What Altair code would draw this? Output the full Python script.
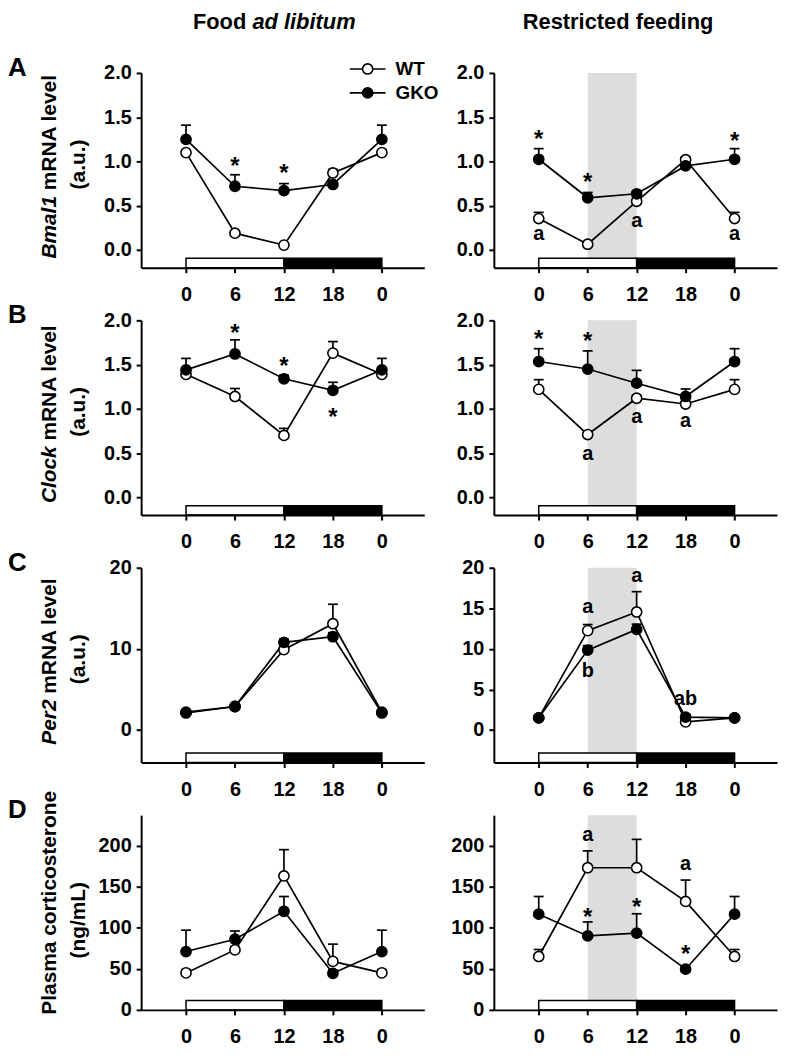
import json
import altair as alt
import pandas as pd

# ---------------- data ----------------
hours = [0, 6, 12, 18, 24]
hour_labels = ["0", "6", "12", "18", "0"]
genotypes = ["WT", "GKO"]
light_phase = [0, 12]
dark_phase = [12, 24]
feeding_window = [6, 12]

# A  Bmal1
bmal1_adlib_wt = [1.10, 0.19, 0.055, 0.87, 1.10]
bmal1_adlib_wt_err = [0.03, 0.02, 0.02, 0.04, 0.03]
bmal1_adlib_gko = [1.25, 0.72, 0.67, 0.74, 1.25]
bmal1_adlib_gko_err = [0.16, 0.13, 0.08, 0.04, 0.16]
bmal1_adlib_marks = [(6, 1.00, "*"), (12, 0.93, "*")]

bmal1_rf_wt = [0.355, 0.065, 0.55, 1.02, 0.355]
bmal1_rf_wt_err = [0.07, 0.02, 0.03, 0.03, 0.07]
bmal1_rf_gko = [1.025, 0.59, 0.635, 0.95, 1.025]
bmal1_rf_gko_err = [0.12, 0.06, 0.03, 0.03, 0.12]
bmal1_rf_marks = [(0, 1.31, "*"), (6, 0.82, "*"), (24, 1.29, "*"),
                  (0, 0.16, "a"), (12, 0.31, "a"), (24, 0.16, "a")]

# B  Clock
clock_adlib_wt = [1.39, 1.14, 0.70, 1.63, 1.39]
clock_adlib_wt_err = [0.04, 0.09, 0.08, 0.13, 0.04]
clock_adlib_gko = [1.44, 1.62, 1.34, 1.21, 1.44]
clock_adlib_gko_err = [0.13, 0.16, 0.04, 0.09, 0.13]
clock_adlib_marks = [(6, 1.91, "*"), (12, 1.54, "*"), (18, 0.96, "*")]

clock_rf_wt = [1.22, 0.71, 1.12, 1.055, 1.22]
clock_rf_wt_err = [0.11, 0.03, 0.03, 0.03, 0.11]
clock_rf_gko = [1.535, 1.45, 1.29, 1.14, 1.535]
clock_rf_gko_err = [0.145, 0.205, 0.145, 0.085, 0.145]
clock_rf_marks = [(0, 1.84, "*"), (6, 1.82, "*"),
                  (6, 0.47, "a"), (12, 0.89, "a"), (18, 0.84, "a")]

# C  Per2
per2_adlib_wt = [2.2, 2.9, 9.9, 13.1, 2.2]
per2_adlib_wt_err = [0.3, 0.3, 0.4, 2.4, 0.3]
per2_adlib_gko = [2.1, 2.9, 10.8, 11.5, 2.1]
per2_adlib_gko_err = [0.3, 0.3, 0.4, 0.5, 0.3]
per2_adlib_marks = []

per2_rf_wt = [1.5, 12.25, 14.55, 1.0, 1.5]
per2_rf_wt_err = [0.2, 0.75, 2.5, 0.2, 0.2]
per2_rf_gko = [1.5, 9.85, 12.4, 1.6, 1.5]
per2_rf_gko_err = [0.2, 0.55, 0.65, 0.3, 0.2]
per2_rf_marks = [(6, 14.9, "a"), (12, 18.7, "a"), (6, 7.0, "b"), (18, 3.6, "ab")]

# D  Plasma corticosterone
cort_adlib_wt = [45, 73, 163, 59, 45]
cort_adlib_wt_err = [4, 4, 32, 21, 4]
cort_adlib_gko = [71, 86, 120, 44.5, 71]
cort_adlib_gko_err = [26, 10, 18, 4, 26]
cort_adlib_marks = []

cort_rf_wt = [65, 173, 173, 132, 65]
cort_rf_wt_err = [8.5, 20.5, 34.5, 26, 8.5]
cort_rf_gko = [116.5, 90, 93.5, 49.5, 116.5]
cort_rf_gko_err = [21.5, 17, 23.5, 3, 21.5]
cort_rf_marks = [(6, 210.7, "a"), (18, 175, "a"),
                 (6, 119, "*"), (12, 131, "*"), (18, 73.5, "*")]

column_titles = [("Food ", "ad libitum"), ("Restricted feeding", "")]
row_letters = ["A", "B", "C", "D"]
row_titles = [("Bmal1", "mRNA level", "(a.u.)"),
              ("Clock", "mRNA level", "(a.u.)"),
              ("Per2", "mRNA level", "(a.u.)"),
              ("", "Plasma corticosterone", "(ng/mL)")]
legend_labels = ["WT", "GKO"]

row_domains = [(-0.2, 2.0), (-0.2, 2.0), (-4, 20), (0, 237)]
row_ticks = [([0, 0.5, 1.0, 1.5, 2.0], [0, 0.5, 1.0, 1.5, 2.0]),
             ([0, 0.5, 1.0, 1.5, 2.0], [0, 0.5, 1.0, 1.5, 2.0]),
             ([0, 10, 20], [0, 5, 10, 15, 20]),
             ([0, 50, 100, 150, 200], [0, 50, 100, 150, 200])]
row_formats = [".1f", ".1f", "d", "d"]

# ---------------- layout / style ----------------
FONT = "Liberation Sans"
W, H = 285, 196
XDOM = [-5.5, 29.2]
LABEL_EXPR = f"{json.dumps(hour_labels)}[indexof({json.dumps(hours)}, datum.value)]"

CW = {'A': .722, 'B': .722, 'C': .722, 'D': .722, 'E': .667, 'F': .611, 'G': .778,
      'K': .722, 'L': .611, 'M': .833, 'N': .722, 'O': .778, 'P': .667, 'R': .722,
      'S': .667, 'T': .611, 'W': .944, 'a': .556, 'b': .611, 'c': .556, 'd': .611,
      'e': .556, 'f': .333, 'g': .611, 'i': .278, 'k': .556, 'l': .278, 'm': .889,
      'n': .611, 'o': .611, 'p': .611, 'r': .389, 's': .556, 't': .333, 'u': .611,
      'v': .556, ' ': .278, '(': .333, ')': .333, '.': .278, '/': .278}


def tw(s, size):
    return sum(CW.get(c, 0.556) for c in s) * size


ONE = pd.DataFrame({"k": [0]})


def label(text, x, y, size, style="normal", align="left", baseline="middle", angle=0):
    kw = dict(font=FONT, fontSize=size, fontWeight="bold", fontStyle=style,
              align=align, baseline=baseline, color="black")
    if angle:
        kw["angle"] = angle
    return alt.Chart(pd.DataFrame({"t": [text]})).mark_text(**kw).encode(
        x=alt.value(x), y=alt.value(y), text="t:N")


def panel(wt, wt_err, gko, gko_err, marks, row, col):
    ymin, ymax = row_domains[row]
    bar_top = ymin + (ymax - ymin) * 9.5 / H
    df = pd.DataFrame({
        "hour": hours + hours,
        "value": wt + gko,
        "top": [v + e for v, e in zip(wt, wt_err)] + [v + e for v, e in zip(gko, gko_err)],
        "genotype": [genotypes[0]] * len(hours) + [genotypes[1]] * len(hours),
    })
    xs = alt.Scale(domain=XDOM, nice=False, zero=False)
    ys = alt.Scale(domain=[ymin, ymax], nice=False, zero=False)
    xa = alt.Axis(values=hours, labelExpr=LABEL_EXPR, title=None, grid=False,
                  labelAngle=0, labelFlush=False, labelOverlap=False, tickSize=5,
                  labelPadding=12, zindex=1)
    ya = alt.Axis(values=row_ticks[row][col], format=row_formats[row], title=None,
                  grid=False, labelFlush=False, labelOverlap=False, tickSize=5,
                  labelPadding=5, zindex=1)

    def X(f):
        return alt.X(f, type="quantitative", scale=xs, axis=xa)

    def Y(f):
        return alt.Y(f, type="quantitative", scale=ys, axis=ya)

    layers = []
    if col == 1:
        sh = pd.DataFrame({"x0": [feeding_window[0]], "x1": [feeding_window[1]],
                           "y0": [bar_top], "y1": [ymax]})
        layers.append(alt.Chart(sh).mark_rect(color="#dddddd").encode(
            x=X("x0"), x2="x1", y=Y("y0"), y2="y1"))
    ld = pd.DataFrame({"x0": [light_phase[0], dark_phase[0]],
                       "x1": [light_phase[1], dark_phase[1]],
                       "y0": [ymin, ymin], "y1": [bar_top, bar_top],
                       "phase": ["light", "dark"]})
    layers.append(alt.Chart(ld).mark_rect(stroke="black", strokeWidth=1.5).encode(
        x=X("x0"), x2="x1", y=Y("y0"), y2="y1",
        fill=alt.Fill("phase:N", scale=alt.Scale(domain=["light", "dark"],
                                                 range=["white", "black"]), legend=None)))
    base = alt.Chart(df)
    layers.append(base.mark_line(color="black", strokeWidth=1.7).encode(
        x=X("hour"), y=Y("value"), detail="genotype:N"))
    layers.append(base.mark_rule(color="black", strokeWidth=1.7).encode(
        x=X("hour"), y=Y("value"), y2="top"))
    layers.append(base.mark_tick(orient="horizontal", size=10, thickness=1.7,
                                 color="black", opacity=1).encode(x=X("hour"), y=Y("top")))
    layers.append(base.mark_point(shape="circle", filled=True, size=105, stroke="black",
                                  strokeWidth=1.6, opacity=1).encode(
        x=X("hour"), y=Y("value"),
        fill=alt.Fill("genotype:N", scale=alt.Scale(domain=genotypes,
                                                    range=["white", "black"]), legend=None)))
    stars = [m for m in marks if m[2] == "*"]
    letters = [m for m in marks if m[2] != "*"]
    if stars:
        layers.append(alt.Chart(pd.DataFrame(stars, columns=["hour", "value", "lab"]))
                      .mark_text(font=FONT, fontWeight="bold", fontSize=24, dy=6,
                                 color="black")
                      .encode(x=X("hour"), y=Y("value"), text="lab:N"))
    if letters:
        layers.append(alt.Chart(pd.DataFrame(letters, columns=["hour", "value", "lab"]))
                      .mark_text(font=FONT, fontWeight="bold", fontSize=20, dy=-2,
                                 color="black")
                      .encode(x=X("hour"), y=Y("value"), text="lab:N"))

    # ---- decorations ----
    if col == 0:
        layers.append(label(row_letters[row], -134, 3, 26, baseline="alphabetic"))
        it, normal, line2 = row_titles[row]
        size = 21
        if row == 3:
            c1, c2 = H * 0.45, H * 0.54
        else:
            c1, c2 = H * 0.48, H * 0.47
        w_it = tw(it + " ", size) if it else 0
        total = w_it + tw(normal, size)
        yb = c1 + total / 2
        if it:
            layers.append(label(it, -92, yb, size, style="italic", angle=270))
        layers.append(label(normal, -92, yb - w_it, size, angle=270))
        layers.append(label(line2, -63, c2, size, align="center", angle=270))
    if row == 0:
        a, b = column_titles[col]
        size = 22
        if col == 0:
            total = tw(a, size) + tw(b, size)
            x0 = 134 - total / 2
            layers.append(label(a, x0, -51, size))
            layers.append(label(b, x0 + tw(a, size), -51, size, style="italic"))
        else:
            layers.append(label(a, 125, -51, size, align="center"))
    if row == 0 and col == 0:
        for i, (g, fillc) in enumerate(zip(legend_labels, ["white", "black"])):
            ly = -4 + 24 * i
            layers.append(alt.Chart(ONE).mark_rule(color="black", strokeWidth=1.7).encode(
                x=alt.value(210), x2=alt.value(246), y=alt.value(ly)))
            layers.append(alt.Chart(ONE).mark_point(shape="circle", filled=True, size=105,
                                                    fill=fillc, stroke="black",
                                                    strokeWidth=1.6, opacity=1).encode(
                x=alt.value(228), y=alt.value(ly)))
            layers.append(label(g, 256, ly, 19))

    return alt.layer(*layers).properties(width=W, height=H).resolve_scale(fill="independent")


panels = [
    panel(bmal1_adlib_wt, bmal1_adlib_wt_err, bmal1_adlib_gko, bmal1_adlib_gko_err, bmal1_adlib_marks, 0, 0),
    panel(bmal1_rf_wt, bmal1_rf_wt_err, bmal1_rf_gko, bmal1_rf_gko_err, bmal1_rf_marks, 0, 1),
    panel(clock_adlib_wt, clock_adlib_wt_err, clock_adlib_gko, clock_adlib_gko_err, clock_adlib_marks, 1, 0),
    panel(clock_rf_wt, clock_rf_wt_err, clock_rf_gko, clock_rf_gko_err, clock_rf_marks, 1, 1),
    panel(per2_adlib_wt, per2_adlib_wt_err, per2_adlib_gko, per2_adlib_gko_err, per2_adlib_marks, 2, 0),
    panel(per2_rf_wt, per2_rf_wt_err, per2_rf_gko, per2_rf_gko_err, per2_rf_marks, 2, 1),
    panel(cort_adlib_wt, cort_adlib_wt_err, cort_adlib_gko, cort_adlib_gko_err, cort_adlib_marks, 3, 0),
    panel(cort_rf_wt, cort_rf_wt_err, cort_rf_gko, cort_rf_gko_err, cort_rf_marks, 3, 1),
]

chart = alt.concat(*panels, columns=2, spacing={"row": 53, "column": 70},
                   bounds="flush").properties(
    padding={"left": 0, "top": 0, "right": 2, "bottom": 0}
).configure_view(stroke=None).configure_axis(
    labelFont=FONT, labelFontSize=20, labelFontWeight="bold", labelColor="black",
    domainColor="black", domainWidth=2, tickColor="black", tickWidth=2,
)

chart.save("out.html", embed_options={"renderer": "svg", "actions": False})
